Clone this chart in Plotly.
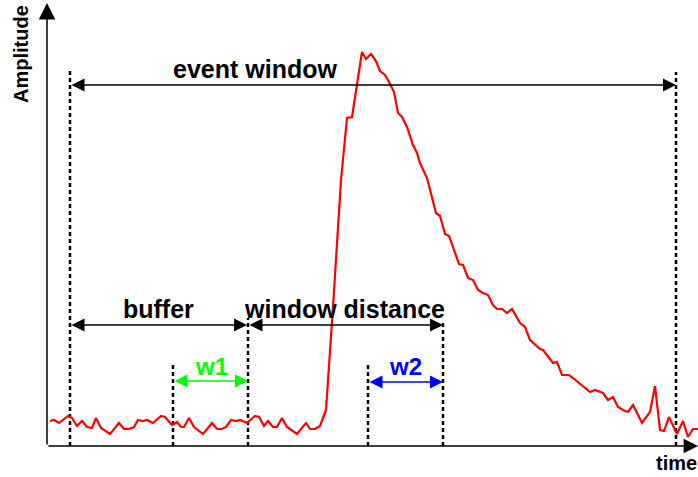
import plotly.graph_objects as go

# Sampled detector pulse: baseline noise, fast rise, slow decay
time = [3, 7, 12, 21, 25, 30, 35, 40, 45, 49, 54, 63, 72, 77, 82, 87, 91, 96, 100, 106,
        114, 118, 125, 130, 134, 137, 142, 147, 156, 165, 170, 175, 179, 184, 189, 193,
        200, 208, 212, 217, 221, 226, 230, 235, 240, 250, 259, 263, 268, 273, 276, 279,
        286, 294, 300, 305, 315, 319, 324, 329, 333, 338, 342, 347, 351, 355, 360, 366,
        370, 373, 380, 385, 389, 393, 398, 402, 407, 412, 416, 421, 426, 431, 436, 441,
        446, 450, 455, 460, 465, 473, 478, 483, 493, 496, 506, 510, 515, 522, 526, 535,
        543, 548, 556, 561, 566, 571, 576, 581, 586, 595, 603, 608, 613, 617, 622, 630,
        636, 641, 646, 651]
amplitude = [25, 26, 23, 30, 28, 20, 25, 19, 18, 28, 18, 12, 23, 17, 17, 19, 26, 25, 26,
             23, 30, 29, 21, 24, 19, 19, 28, 19, 12, 23, 17, 17, 19, 26, 25, 26, 23, 30,
             29, 20, 25, 19, 19, 28, 19, 12, 23, 17, 17, 20, 28, 36, 139, 266, 328, 329,
             394, 387, 392, 385, 375, 371, 364, 354, 333, 329, 319, 301, 293, 283, 268,
             249, 233, 230, 212, 210, 196, 182, 181, 168, 166, 156, 153, 151, 141, 137,
             137, 133, 137, 123, 119, 106, 97, 96, 83, 84, 71, 71, 68, 61, 54, 56, 53,
             46, 49, 39, 36, 34, 41, 23, 34, 60, 16, 15, 29, 12, 25, 9, 17, 17]

# Window boundaries (time) and how far up each marker line reaches (amplitude)
marker_times = [23, 126, 201, 321, 396, 629]
marker_tops = [376, 81, 128, 81, 126, 374]

# Annotated spans
span_labels = ["event window", "buffer", "window distance", "w1", "w2"]
span_start = [23, 23, 201, 126, 321]
span_end = [629, 200, 396, 201, 396]
span_level = [361, 121, 121, 65, 64]
span_colour = ["black", "black", "black", "#00ff00", "#0000ff"]
label_x = [208, 111, 297, 164, 358]
label_level = [377, 137, 137, 80, 80]
label_size = [25, 25, 25, 24, 24]

FONT = "Liberation Sans, Arial, sans-serif"

fig = go.Figure()

# Dashed window boundaries
for t, top in zip(marker_times, marker_tops):
    fig.add_trace(go.Scatter(
        x=[t, t], y=[0, top], mode="lines",
        line=dict(color="black", width=2.5, dash="4px,3px"),
        hoverinfo="skip", showlegend=False))

# Pulse trace
fig.add_trace(go.Scatter(
    x=time, y=amplitude, mode="lines",
    line=dict(color="#ff0000", width=2.2),
    hoverinfo="skip", showlegend=False))

annotations = []

# Axes drawn as arrows
annotations.append(dict(x=0, y=443, ax=0, ay=0, xref="x", yref="y", axref="x", ayref="y",
                        text="", showarrow=True, arrowhead=2, arrowsize=2.2,
                        arrowwidth=1.5, arrowcolor="black"))
annotations.append(dict(x=651, y=0, ax=0, ay=0, xref="x", yref="y", axref="x", ayref="y",
                        text="", showarrow=True, arrowhead=2, arrowsize=1.8,
                        arrowwidth=1.6, arrowcolor="black"))

# Double-headed span arrows and their labels
for lab, s, e, lv, col, lx, ll, fs in zip(span_labels, span_start, span_end, span_level,
                                          span_colour, label_x, label_level, label_size):
    annotations.append(dict(x=e, y=lv, ax=s, ay=lv, xref="x", yref="y",
                            axref="x", ayref="y", text="", showarrow=True,
                            arrowhead=2, startarrowhead=2, arrowside="end+start",
                            arrowsize=2.0, startarrowsize=2.0, arrowwidth=1.3,
                            arrowcolor=col))
    annotations.append(dict(x=lx, y=ll, xref="x", yref="y",
                            text="<b>%s</b>" % lab, showarrow=False,
                            font=dict(family=FONT, size=fs, color=col),
                            xanchor="center", yanchor="middle"))

# Axis titles
annotations.append(dict(x=-26, y=392, xref="x", yref="y", text="<b>Amplitude</b>",
                        textangle=-90, showarrow=False,
                        font=dict(family=FONT, size=20, color="black"),
                        xanchor="center", yanchor="middle"))
annotations.append(dict(x=629, y=-17, xref="x", yref="y", text="<b>time</b>",
                        showarrow=False, font=dict(family=FONT, size=20, color="black"),
                        xanchor="center", yanchor="middle"))

fig.update_layout(
    width=698, height=477,
    margin=dict(l=0, r=0, t=0, b=0),
    paper_bgcolor="white", plot_bgcolor="white",
    xaxis=dict(range=[-47, 651], visible=False, fixedrange=True),
    yaxis=dict(range=[-31, 446], visible=False, fixedrange=True),
    annotations=annotations,
    showlegend=False,
)

fig.write_html("out.html")
